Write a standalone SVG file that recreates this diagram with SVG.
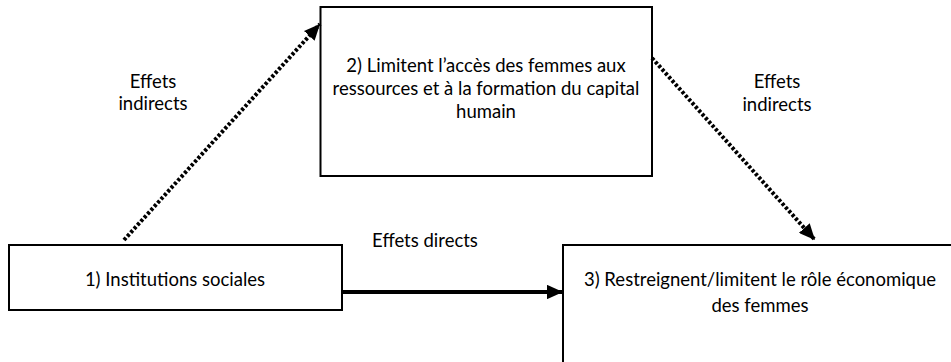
<svg xmlns="http://www.w3.org/2000/svg" width="951" height="362" viewBox="0 0 951 362">
  <style>
    .box { fill: #ffffff; stroke: #000000; stroke-width: 2; }
    .txt { font-family: "Lato", "Open Sans", "Liberation Sans", sans-serif; font-size: 18.5px; fill: #000000; text-anchor: middle; }
    .dot { fill: none; stroke: #000000; stroke-width: 4; stroke-dasharray: 3 2; }
    .solid { fill: none; stroke: #000000; stroke-width: 4; }
  </style>
  <defs>
    <marker id="ah" viewBox="0 0 10 10" refX="10" refY="5" markerWidth="4" markerHeight="3.6" orient="auto" markerUnits="strokeWidth" preserveAspectRatio="none">
      <path d="M0,0 L10,5 L0,10 Z" fill="#000000"/>
    </marker>
  </defs>
  <rect width="951" height="362" fill="#ffffff"/>

  <g id="node1">
    <rect class="box" x="9" y="245" width="333" height="65"/>
    <text class="txt" x="175" y="286">1) Institutions sociales</text>
  </g>

  <g id="node2">
    <rect class="box" x="320.5" y="7" width="331.5" height="169"/>
    <text class="txt" x="486" y="72">2) Limitent l’accès des femmes aux</text>
    <text class="txt" x="486" y="95">ressources et à la formation du capital</text>
    <text class="txt" x="486" y="118">humain</text>
  </g>

  <g id="node3">
    <rect class="box" x="563" y="245" width="400" height="130"/>
    <text class="txt" x="760" y="286">3) Restreignent/limitent le rôle économique</text>
    <text class="txt" x="760" y="312">des femmes</text>
  </g>

  <g id="connectors">
    <line class="dot" x1="124" y1="240" x2="320" y2="24" marker-end="url(#ah)"/>
    <line class="dot" x1="652" y1="58" x2="815" y2="240" marker-end="url(#ah)"/>
    <line class="solid" x1="342" y1="292" x2="563" y2="292" marker-end="url(#ah)"/>
  </g>

  <g id="labels">
    <text class="txt" x="153" y="88">Effets</text>
    <text class="txt" x="153" y="110">indirects</text>
    <text class="txt" x="777" y="88">Effets</text>
    <text class="txt" x="777" y="111">indirects</text>
    <text class="txt" x="425" y="247">Effets directs</text>
  </g>
</svg>
